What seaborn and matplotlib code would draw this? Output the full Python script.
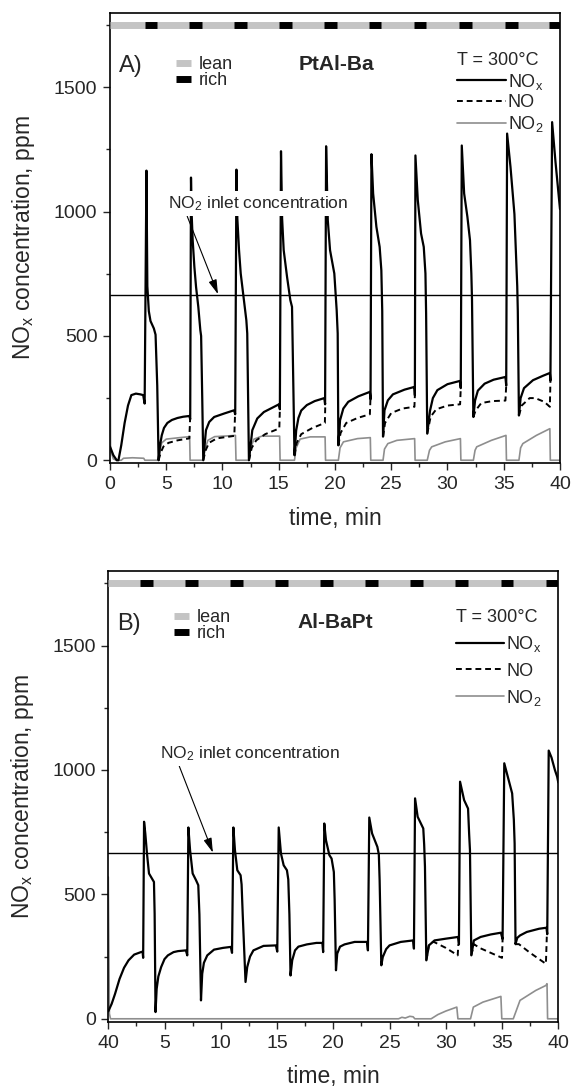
import numpy as np
import pandas as pd
import seaborn as sns
import matplotlib.pyplot as plt
from matplotlib.lines import Line2D
from matplotlib.ticker import MultipleLocator

sns.set_style("ticks")
plt.rcParams['font.family'] = ['Liberation Sans', 'DejaVu Sans']
plt.rcParams['mathtext.fontset'] = 'custom'
plt.rcParams['mathtext.rm'] = 'Liberation Sans'
plt.rcParams['mathtext.it'] = 'Liberation Sans'

## Data (time in min, conc in ppm)
inlet_no2 = 665
bar_level = 1750

# panel A  (PtAl-Ba)
a_rich_start = [3.1, 7.05, 11.0, 15.0, 19.05, 23.0, 27.0, 31.0, 35.1, 39.0]
a_rich_end = [4.2, 8.15, 12.2, 16.15, 20.2, 24.1, 28.1, 32.15, 36.3, 40.0]

a_nox_t = [0.0, 0.3, 0.6, 0.75, 1.0, 1.3, 1.6, 1.9, 2.3, 2.7, 2.95, 3.08, 3.24, 3.32, 3.45, 3.6, 3.9, 4.05, 4.2, 4.32,
           4.45, 4.6, 4.8, 5.1, 5.5, 6.0, 6.5, 7.05, 7.13, 7.2, 7.25, 7.35, 7.5, 7.65, 7.85, 8.03, 8.1, 8.2, 8.29,
           8.53, 8.82, 9.26, 10.15, 11.03, 11.13, 11.24, 11.32, 11.47, 11.62, 11.91, 12.12, 12.2, 12.35,
           12.65, 13.09, 13.68, 14.85, 15.02, 15.1, 15.2, 15.3, 15.44, 15.74, 16.03, 16.18, 16.3, 16.4,
           16.55, 16.75, 17.0, 17.5, 18.2, 19.05, 19.12, 19.21, 19.36, 19.56, 19.94, 20.15, 20.24, 20.3,
           20.45, 20.74, 21.18, 22.07, 23.1, 23.16, 23.24, 23.39, 23.68, 23.97, 24.12, 24.2, 24.27,
           24.4, 24.7, 25.15, 26.18, 27.06, 27.1, 27.15, 27.36, 27.65, 27.89, 28.04, 28.1, 28.2,
           28.45, 28.7, 29.1, 30.0, 31.1, 31.18, 31.27, 31.48, 31.77, 32.0, 32.12, 32.18, 32.3,
           32.45, 32.7, 33.3, 34.1, 35.15, 35.22, 35.3, 35.6, 35.95, 36.1, 36.2, 36.25, 36.35,
           36.5, 36.8, 37.6, 38.5, 39.1, 39.15, 39.3, 39.6, 39.85, 40.0]
a_nox_v = [55, 20, 0, 0, 60, 150, 220, 262, 268, 265, 262, 228, 1165, 700, 600, 560, 530, 505, 300, 0,
           60, 100, 130, 150, 162, 170, 175, 178, 165, 1137, 1000, 885, 778, 697, 617, 523, 500, 250, 0,
           121, 154, 174, 188, 201, 185, 1169, 972, 845, 751, 644, 563, 510, 0,
           121, 168, 194, 221, 225, 205, 1243, 972, 845, 737, 644, 617, 300, 20,
           120, 170, 200, 222, 238, 250, 225, 1263, 965, 845, 751, 603, 510, 60,
           161, 208, 235, 257, 275, 245, 1231, 1073, 939, 858, 764, 600, 95,
           201, 241, 265, 284, 295, 261, 1226, 1046, 912, 858, 751, 590, 107,
           200, 250, 282, 306, 319, 290, 1266, 1073, 979, 885, 751, 644, 174,
           240, 280, 308, 324, 335, 300, 1314, 1180, 990, 820, 700, 600, 180,
           250, 290, 322, 340, 351, 320, 1360, 1200, 1080, 1010]

a_no_seg = [1] * 7 + [2] * 6 + [3] * 6 + [4] * 6 + [5] * 6 + [6] * 6 + [7] * 6 + [8] * 6 + [9] * 7
a_no_t = [4.32, 4.5, 4.75, 5.2, 6.0, 7.05, 7.12,
          8.29, 8.5, 8.8, 9.5, 11.05, 11.12,
          12.35, 12.6, 13.0, 13.8, 15.05, 15.1,
          16.4, 16.6, 17.0, 18.0, 19.1, 19.14,
          20.3, 20.5, 21.0, 22.0, 23.1, 23.15,
          24.27, 24.45, 25.0, 26.0, 27.06, 27.1,
          28.2, 28.5, 29.0, 30.0, 31.12, 31.18,
          32.3, 32.5, 33.0, 34.0, 35.15, 35.22,
          36.35, 36.6, 37.3, 37.8, 38.6, 39.1, 39.15]
a_no_v = [0, 30, 55, 70, 80, 88, 165,
          0, 40, 70, 88, 98, 190,
          0, 50, 80, 105, 128, 205,
          20, 70, 105, 130, 150, 230,
          60, 110, 150, 170, 185, 245,
          95, 150, 190, 208, 215, 261,
          107, 175, 205, 220, 225, 290,
          174, 200, 230, 238, 240, 300,
          180, 220, 250, 250, 235, 215, 320]

a_no2_t = [0.0, 0.05, 0.3, 0.6, 1.0, 1.2, 2.0, 3.0, 3.1,
           4.32, 4.45, 4.6, 5.0, 6.0, 7.08, 7.12,
           8.29, 8.45, 8.7, 9.3, 10.5, 11.15, 11.2,
           12.35, 12.5, 12.8, 13.5, 15.08, 15.12,
           16.4, 16.55, 16.9, 17.8, 19.12, 19.16,
           20.3, 20.45, 20.75, 22.0, 23.14, 23.18,
           24.27, 24.4, 24.7, 25.5, 27.08, 27.12,
           28.2, 28.4, 28.6, 29.8, 31.15, 31.19,
           32.3, 32.45, 32.6, 33.9, 35.2, 35.24,
           36.35, 36.5, 36.7, 37.9, 39.1, 39.14, 40.0]
a_no2_v = [660, 40, 5, 0, 0, 8, 10, 8, 0,
           0, 40, 70, 85, 90, 95, 0,
           0, 45, 80, 95, 98, 100, 0,
           0, 50, 85, 97, 97, 0,
           0, 50, 85, 94, 94, 0,
           0, 50, 74, 87, 91, 0,
           0, 45, 67, 80, 87, 0,
           0, 40, 54, 74, 87, 0,
           0, 40, 54, 80, 100, 0,
           0, 50, 67, 100, 127, 0, 0]

# panel B  (Al-BaPt)
b_rich_start = [2.8, 6.8, 10.8, 14.8, 18.8, 22.8, 26.8, 30.8, 34.9, 38.9]
b_rich_end = [4.0, 8.0, 12.0, 16.0, 20.0, 24.0, 28.0, 32.0, 36.0, 40.0]

b_nox_t = [0.0, 0.3, 0.6, 1.0, 1.4, 1.8, 2.3, 2.9, 3.05, 3.1, 3.18, 3.29, 3.44, 3.62, 3.88, 4.06, 4.12, 4.2,
           4.3, 4.45, 4.7, 5.0, 5.3, 5.8, 6.2, 6.9, 7.02, 7.12, 7.27, 7.5, 7.8, 8.0, 8.1, 8.24,
           8.35, 8.5, 8.8, 9.4, 10.2, 10.9, 11.0, 11.12, 11.26, 11.47, 11.76, 11.85, 11.95, 12.2,
           12.35, 12.6, 12.9, 13.8, 14.9, 15.02, 15.15, 15.35, 15.59, 15.88, 16.0, 16.1, 16.2,
           16.35, 16.6, 16.9, 17.65, 18.5, 19.03, 19.1, 19.2, 19.35, 19.65, 19.85, 20.05, 20.12, 20.24,
           20.35, 20.6, 21.0, 21.9, 23.0, 23.08, 23.2, 23.45, 23.92, 24.05, 24.12, 24.27,
           24.4, 24.7, 25.0, 26.0, 27.1, 27.17, 27.27, 27.5, 28.0, 28.08, 28.15, 28.27,
           28.5, 29.0, 30.0, 31.1, 31.17, 31.27, 31.63, 31.98, 32.08, 32.15, 32.27,
           32.5, 33.1, 34.0, 34.9, 35.05, 35.2, 35.55, 35.9, 36.05, 36.12, 36.2,
           36.35, 36.6, 37.2, 38.3, 38.95, 39.02, 39.15, 39.4, 39.7, 39.9, 40.0]
b_nox_v = [30, 60, 100, 160, 205, 235, 258, 268, 270, 245, 792, 745, 664, 584, 564, 550, 423, 27,
           120, 170, 208, 240, 255, 268, 272, 275, 255, 769, 678, 584, 557, 537, 420, 74,
           181, 225, 255, 278, 285, 289, 265, 769, 678, 597, 577, 540, 420, 148,
           208, 250, 275, 293, 295, 270, 769, 664, 617, 597, 560, 420, 174,
           235, 275, 290, 299, 305, 305, 268, 785, 718, 658, 644, 590, 480, 195,
           262, 290, 299, 309, 309, 275, 809, 745, 691, 660, 557, 215,
           248, 280, 295, 309, 315, 282, 886, 812, 765, 700, 611, 235,
           295, 315, 322, 329, 300, 953, 879, 845, 740, 678, 255,
           315, 329, 339, 346, 320, 1027, 966, 906, 800, 705, 300,
           325, 335, 349, 362, 366, 340, 1078, 1050, 1000, 973, 950]

b_no_seg = [7] * 6 + [8] * 6 + [9] * 5
b_no_t = [28.27, 28.5, 28.9, 30.0, 31.06, 31.12,
          32.27, 32.5, 33.0, 34.0, 35.0, 35.05,
          36.2, 36.5, 37.5, 38.9, 38.98]
b_no_v = [235, 295, 310, 285, 255, 300,
          255, 300, 285, 265, 245, 320,
          300, 300, 265, 221, 330]

b_no2_t = [0.0, 0.1, 0.2, 25.8, 26.1, 26.4, 26.8, 27.1, 27.25, 28.7, 29.3, 30.0, 30.98, 31.08,
           32.2, 32.45, 33.3, 34.9, 34.98, 36.0, 36.6, 38.0, 38.9, 39.0, 39.05, 40.0]
b_no2_v = [570, 20, 0, 0, 6, 3, 10, 8, 0, 0, 17, 31, 47, 0,
           0, 47, 67, 90, 0, 0, 74, 114, 134, 141, 0, 0]

x_ticks = [0, 5, 10, 15, 20, 25, 30, 35, 40]
a_xlabels = ['0', '5', '10', '15', '20', '25', '30', '35', '40']
b_xlabels = ['40', '5', '10', '15', '20', '25', '30', '35', '40']
y_ticks = [0, 500, 1000, 1500]

NOX = 'NO$_\\mathregular{x}$'
NO2 = 'NO$_\\mathregular{2}$'
lean_c = '#c4c4c4'
no2_c = '#8e8e8e'


def draw_panel(ax, nox_t, nox_v, no_t, no_v, no_seg, no2_t, no2_v,
               rich_start, rich_end, xlabels, tag, title, txt_xy, arrow_xy,
               leg1_y, leg2_y, leg_space):
    sns.lineplot(x=no2_t, y=no2_v, ax=ax, color=no2_c, lw=1.2, sort=False, estimator=None)
    no_df = pd.DataFrame({'t': no_t, 'v': no_v, 'seg': no_seg})
    sns.lineplot(data=no_df, x='t', y='v', units='seg', estimator=None, sort=False, ax=ax,
                 color='black', lw=1.4, linestyle=(0, (3, 2)))
    sns.lineplot(x=nox_t, y=nox_v, ax=ax, color='black', lw=1.6, sort=False, estimator=None)
    ax.axhline(inlet_no2, color='black', lw=1.0, zorder=1)

    # lean / rich bar
    ax.hlines(bar_level, 0, 40, color=lean_c, lw=5, zorder=3)
    ax.hlines([bar_level] * len(rich_start), rich_start, rich_end, color='black', lw=5, zorder=4)

    ax.annotate('NO$_\\mathregular{2}$ inlet concentration', xy=arrow_xy, xytext=txt_xy,
                ha='center', va='center', fontsize=12.5, zorder=5,
                bbox=dict(boxstyle='square,pad=0.2', fc='white', ec='none'),
                arrowprops=dict(arrowstyle='-|>,head_length=0.7,head_width=0.2', color='black',
                                lw=0.8, relpos=(0.1, 0.0), shrinkA=0, shrinkB=0))

    ax.set_xlim(0, 40)
    ax.set_ylim(-13, 1800)
    ax.set_xticks(x_ticks)
    ax.set_xticklabels(xlabels)
    ax.set_yticks(y_ticks)
    ax.xaxis.set_minor_locator(MultipleLocator(2.5))
    ax.yaxis.set_minor_locator(MultipleLocator(250))
    ax.tick_params(which='major', length=5, width=1, labelsize=14, pad=4)
    ax.tick_params(which='minor', length=3, width=1)
    for s in ax.spines.values():
        s.set_linewidth(1.2)
        s.set_color('black')
    ax.set_xlabel('time, min', fontsize=16.5, labelpad=10)
    ax.set_ylabel(NOX + ' concentration, ppm', fontsize=16.5, labelpad=12)

    ax.text(0.046, 0.882, tag, transform=ax.transAxes, fontsize=17, ha='center', va='center')
    ax.text(0.504, 0.886, title, transform=ax.transAxes, fontsize=15, fontweight='bold',
            ha='center', va='center')

    h1 = [Line2D([], [], color=lean_c, lw=5, solid_capstyle='butt'),
          Line2D([], [], color='black', lw=5, solid_capstyle='butt')]
    leg1 = ax.legend(h1, ['lean', 'rich'], loc='upper left', bbox_to_anchor=(0.147, leg1_y),
                     frameon=False, fontsize=13, handlelength=0.8, handletextpad=0.45,
                     labelspacing=-0.05, borderpad=0, borderaxespad=0)
    ax.add_artist(leg1)

    h2 = [Line2D([], [], color='black', lw=1.6),
          Line2D([], [], color='black', lw=1.4, linestyle=(0, (3, 2))),
          Line2D([], [], color=no2_c, lw=1.2)]
    ax.legend(h2, [NOX, 'NO', NO2], loc='upper left', bbox_to_anchor=(0.772, leg2_y),
              frameon=False, fontsize=13, handlelength=2.7, handletextpad=0.1,
              labelspacing=leg_space, borderpad=0, borderaxespad=0,
              title='T = 300\u00b0C', title_fontsize=13, alignment='left')


fig = plt.figure(figsize=(5.72, 10.89), dpi=100)
ax_a = fig.add_axes([0.1923, 0.5744, 0.7867, 0.4139])
ax_b = fig.add_axes([0.1893, 0.0615, 0.7867, 0.4142])

draw_panel(ax_a, a_nox_t, a_nox_v, a_no_t, a_no_v, a_no_seg, a_no2_t, a_no2_v,
           a_rich_start, a_rich_end, a_xlabels, 'A)', 'PtAl-Ba', (13.15, 1033), (9.6, 668),
           0.904, 0.913, 0.15)
draw_panel(ax_b, b_nox_t, b_nox_v, b_no_t, b_no_v, b_no_seg, b_no2_t, b_no2_v,
           b_rich_start, b_rich_end, b_xlabels, 'B)', 'Al-BaPt', (12.6, 1067), (9.3, 668),
           0.915, 0.915, 0.45)

fig.savefig('out.png', dpi=100)
